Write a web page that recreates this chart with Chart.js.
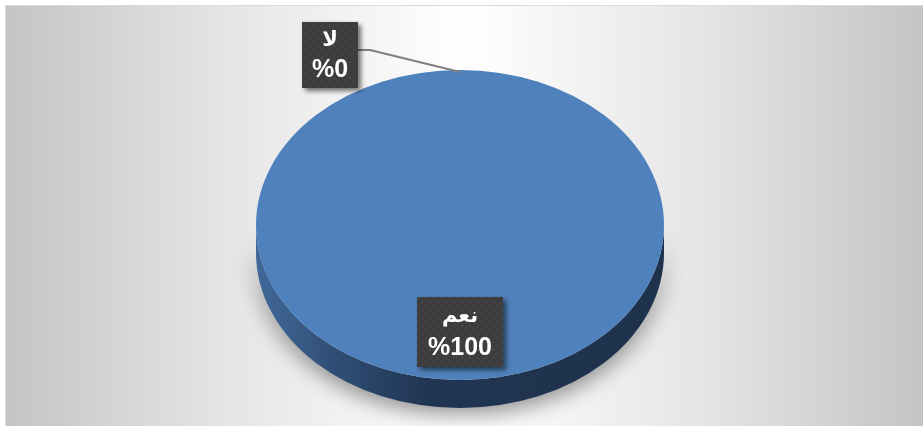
<!DOCTYPE html>
<html lang="ar">
<head>
<meta charset="utf-8">
<script src="https://cdn.jsdelivr.net/npm/chart.js@4"></script>
<style>
  html, body { margin: 0; padding: 0; background: #fff; }
  .chart { width: 923px; height: 426px; }
</style>
</head>
<body>
<div class="chart"><canvas id="myChart" width="923" height="426"></canvas></div>
<script>
const labels = ["نعم", "لا"];
const values = [100, 0];
const percentLabels = ["%100", "%0"];

const TILT = 0.76; // how flat the pie looks
const DEPTH = 28; // side thickness
const TOP_Y = 225; // centre of the top face on screen

// small dotted pattern for the label boxes
function makePattern(ctx) {
  const c = document.createElement("canvas");
  c.width = 8;
  c.height = 8;
  const p = c.getContext("2d");
  p.fillStyle = "#3d3d3d";
  p.fillRect(0, 0, 8, 8);
  p.fillStyle = "#4a4a4a";
  p.beginPath();
  p.arc(2, 2, 1.1, 0, Math.PI * 2);
  p.arc(6, 6, 1.1, 0, Math.PI * 2);
  p.fill();
  return ctx.createPattern(c, "repeat");
}

function drawBox(ctx, x, y, w, h, lines) {
  ctx.save();
  ctx.shadowColor = "rgba(0,0,0,0.55)";
  ctx.shadowBlur = 5;
  ctx.shadowOffsetX = 3;
  ctx.shadowOffsetY = 3;
  ctx.fillStyle = makePattern(ctx);
  ctx.fillRect(x, y, w, h);
  ctx.restore();
  ctx.save();
  ctx.fillStyle = "#ffffff";
  ctx.textAlign = "center";
  ctx.textBaseline = "middle";
  ctx.font = "bold 21px 'DejaVu Sans', sans-serif";
  ctx.direction = "rtl";
  ctx.fillText(lines[0], x + w / 2, y + h * 0.28);
  ctx.direction = "ltr";
  ctx.font = "bold 25px 'Liberation Sans', Arial, sans-serif";
  ctx.fillText(lines[1], x + w / 2, y + h * 0.73);
  ctx.restore();
}

const pie3d = {
  id: "pie3d",
  beforeDraw(chart) {
    const ctx = chart.ctx;
    ctx.save();
    ctx.fillStyle = "#fff";
    ctx.fillRect(0, 0, chart.width, chart.height);
    const g = ctx.createLinearGradient(5, 0, chart.width, 0);
    g.addColorStop(0, "#c4c4c4");
    g.addColorStop(0.25, "#e6e6e6");
    g.addColorStop(0.5, "#ffffff");
    g.addColorStop(0.75, "#e6e6e6");
    g.addColorStop(1, "#c4c4c4");
    ctx.fillStyle = g;
    ctx.fillRect(5, 5, chart.width - 5, chart.height - 5);
    ctx.strokeStyle = "#dcdcdc";
    ctx.lineWidth = 1;
    ctx.beginPath();
    ctx.moveTo(5.5, chart.height);
    ctx.lineTo(5.5, 5.5);
    ctx.lineTo(chart.width, 5.5);
    ctx.stroke();
    ctx.restore();
  },
  beforeDatasetsDraw(chart) {
    const ctx = chart.ctx;
    const arc = chart.getDatasetMeta(0).data[0];
    const cx = arc.x;
    const cy = arc.y;
    const r = arc.outerRadius;
    const ry = r * TILT;

    // side of the pie, with a soft shadow under it
    const side = ctx.createLinearGradient(cx - r, 0, cx + r, 0);
    side.addColorStop(0, "#42699a");
    side.addColorStop(0.2, "#2f4d74");
    side.addColorStop(0.42, "#203552");
    side.addColorStop(1, "#1f324c");
    ctx.save();
    ctx.shadowColor = "rgba(0,0,0,0.45)";
    ctx.shadowBlur = 22;
    ctx.shadowOffsetY = 6;
    ctx.fillStyle = side;
    ctx.beginPath();
    ctx.ellipse(cx, TOP_Y, r, ry, 0, 0, Math.PI);
    ctx.lineTo(cx - r, TOP_Y + DEPTH);
    ctx.ellipse(cx, TOP_Y + DEPTH, r, ry, 0, Math.PI, 0, true);
    ctx.closePath();
    ctx.fill();
    ctx.restore();

    // squash the library's pie into the top face
    ctx.save();
    ctx.translate(cx, TOP_Y);
    ctx.scale(1, TILT);
    ctx.translate(-cx, -cy);
  },
  afterDatasetsDraw(chart) {
    const ctx = chart.ctx;
    ctx.restore();
    const meta = chart.getDatasetMeta(0);
    const arc = meta.data[0];
    const cx = arc.x;
    const r = arc.outerRadius;
    const ry = r * TILT;

    // label for the big slice, inside the face
    const mid0 = (arc.startAngle + arc.endAngle) / 2;
    const lx = cx + Math.cos(mid0) * r * 0.69;
    const ly = TOP_Y + Math.sin(mid0) * ry * 0.69;
    drawBox(ctx, lx - 43, ly - 35, 86, 70, [labels[0], percentLabels[0]]);

    // label for the empty slice, outside with a leader line
    const a1 = meta.data[1].startAngle;
    const px = cx + Math.cos(a1) * r;
    const py = TOP_Y + Math.sin(a1) * ry;
    ctx.save();
    ctx.strokeStyle = "#7f7f7f";
    ctx.lineWidth = 2;
    ctx.beginPath();
    ctx.moveTo(px, py + 2);
    ctx.lineTo(px - 90, py - 20);
    ctx.lineTo(px - 102, py - 20);
    ctx.stroke();
    ctx.restore();
    drawBox(ctx, px - 158, py - 48, 56, 66, [labels[1], percentLabels[1]]);
  },
};

new Chart(document.getElementById("myChart"), {
  type: "pie",
  data: {
    labels: labels,
    datasets: [
      {
        data: values,
        backgroundColor: ["#4f81bd", "#c0504d"],
        borderWidth: 0,
      },
    ],
  },
  options: {
    responsive: false,
    animation: false,
    layout: { padding: { top: 9, bottom: 9, left: 0, right: 3 } },
    plugins: {
      legend: { display: false },
      tooltip: { enabled: false },
    },
  },
  plugins: [pie3d],
});
</script>
</body>
</html>
